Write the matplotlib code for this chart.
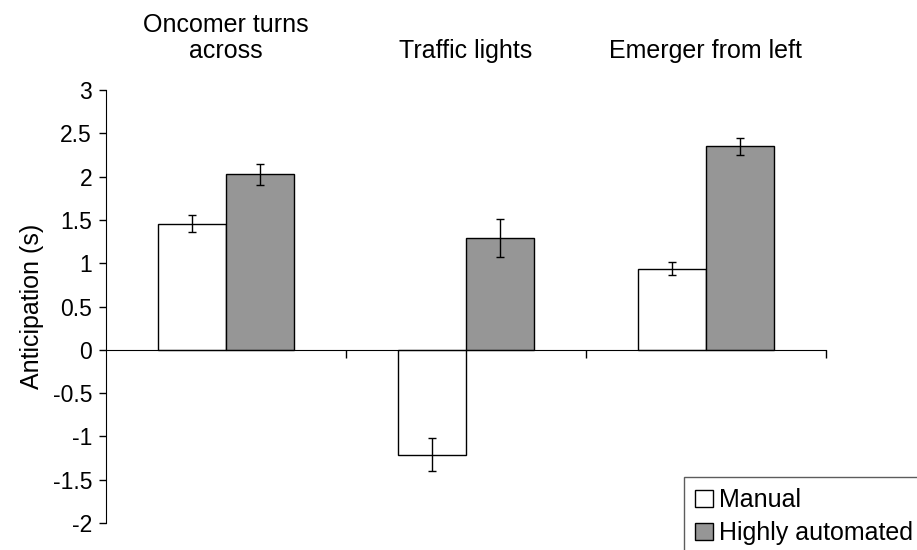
import numpy as np
import matplotlib
matplotlib.use("Agg")
import matplotlib.pyplot as plt
from matplotlib.transforms import blended_transform_factory

plt.rcParams['font.family'] = ['Liberation Sans', 'DejaVu Sans']

# data
categories = ["Oncomer turns\nacross", "Traffic lights", "Emerger from left"]
series = ["Manual", "Highly automated"]
manual = [1.46, -1.21, 0.94]
manual_err = [0.10, 0.19, 0.07]
automated = [2.03, 1.29, 2.35]
automated_err = [0.12, 0.22, 0.10]
yticks = [3, 2.5, 2, 1.5, 1, 0.5, 0, -0.5, -1, -1.5, -2]
ytick_labels = ["3", "2.5", "2", "1.5", "1", "0.5", "0", "-0.5", "-1", "-1.5", "-2"]

fig = plt.figure(figsize=(9.17, 5.5), dpi=100)
ax = fig.add_axes([0.1156, 0.049, 0.785, 0.787])

x = np.arange(len(categories))
w = 0.283

err_kw = dict(ecolor='black', elinewidth=1, capsize=3, capthick=1)
ax.bar(x - w / 2, manual, w, yerr=manual_err, color='white', edgecolor='black',
       linewidth=1, label=series[0], error_kw=err_kw)
ax.bar(x + w / 2, automated, w, yerr=automated_err, color='#969696', edgecolor='black',
       linewidth=1, label=series[1], error_kw=err_kw)

ax.set_xlim(-0.5, len(categories) - 0.5)
ax.set_ylim(-2, 3)
ax.set_yticks(yticks)
ax.set_yticklabels(ytick_labels, fontsize=16.5)
ax.set_ylabel("Anticipation (s)", fontsize=18, labelpad=6)

ax.spines['top'].set_visible(False)
ax.spines['right'].set_visible(False)
ax.spines['bottom'].set_position(('data', 0))
ax.set_xticks([0.5, 1.5, 2.5])
ax.set_xticklabels([])
ax.tick_params(axis='x', direction='out', length=6, width=1)
ax.tick_params(axis='y', direction='out', length=5, width=1, pad=5)

# category names above the plot
trans = blended_transform_factory(ax.transData, ax.transAxes)
for i, name in enumerate(categories):
    ax.text(x[i], 1.063, name, transform=trans, ha='center', va='bottom',
            fontsize=18, linespacing=1.1)

leg = fig.legend(loc='upper left', bbox_to_anchor=(0.746, 0.133), fontsize=18,
                 frameon=True, fancybox=False, edgecolor='#333333',
                 handlelength=0.7, handleheight=0.7, handletextpad=0.25,
                 borderpad=0.45, labelspacing=0.37, borderaxespad=0)
leg.get_frame().set_linewidth(1)

fig.savefig("out.png", dpi=100)
